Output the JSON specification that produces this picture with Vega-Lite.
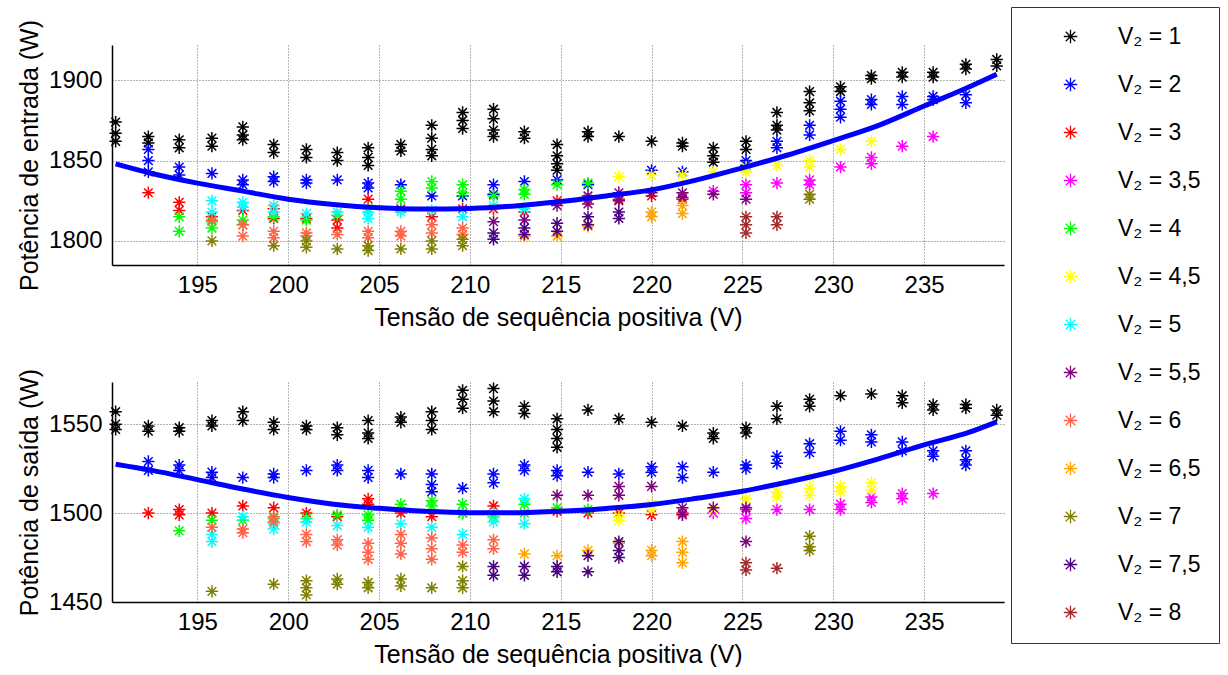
{
"$schema": "https://vega.github.io/schema/vega-lite/v6.json",
"background": "white",
"padding": {"left": 17, "top": 6, "right": 2, "bottom": 0},
"spacing": 38,
"config": {
  "font": "Liberation Sans",
  "view": {"stroke": null},
  "axis": {"labelFont": "Liberation Sans", "titleFont": "Liberation Sans", "labelFontSize": 24, "titleFontSize": 25, "titleFontWeight": "normal", "labelColor": "#000", "titleColor": "#000", "domainColor": "#000", "domainWidth": 1.5, "ticks": false, "grid": true, "gridColor": "#666", "gridDash": [1, 2], "gridOpacity": 1, "gridWidth": 1, "format": "d"}
},
"datasets": {
  "e": [
{"x":190.5,"y":1874,"s":"1"},{"x":190.5,"y":1867,"s":"1"},{"x":190.5,"y":1862,"s":"1"},
{"x":192.3,"y":1865,"s":"1"},{"x":192.3,"y":1861,"s":"1"},{"x":192.3,"y":1857,"s":"2"},{"x":192.3,"y":1850,"s":"2"},{"x":192.3,"y":1843,"s":"2"},{"x":192.3,"y":1830,"s":"3"},
{"x":194.0,"y":1863,"s":"1"},{"x":194.0,"y":1858,"s":"1"},{"x":194.0,"y":1846,"s":"2"},{"x":194.0,"y":1841,"s":"2"},{"x":194.0,"y":1824,"s":"3"},{"x":194.0,"y":1819,"s":"3"},{"x":194.0,"y":1815,"s":"4"},{"x":194.0,"y":1806,"s":"4"},
{"x":195.8,"y":1864,"s":"1"},{"x":195.8,"y":1859,"s":"1"},{"x":195.8,"y":1842,"s":"2"},{"x":195.8,"y":1825,"s":"5"},{"x":195.8,"y":1818,"s":"5"},{"x":195.8,"y":1815,"s":"3"},{"x":195.8,"y":1812,"s":"4"},{"x":195.8,"y":1808,"s":"4"},{"x":195.8,"y":1813,"s":"6"},{"x":195.8,"y":1800,"s":"7"},
{"x":197.5,"y":1871,"s":"1"},{"x":197.5,"y":1866,"s":"1"},{"x":197.5,"y":1863,"s":"1"},{"x":197.5,"y":1838,"s":"2"},{"x":197.5,"y":1835,"s":"2"},{"x":197.5,"y":1824,"s":"5"},{"x":197.5,"y":1821,"s":"5"},{"x":197.5,"y":1819,"s":"3"},{"x":197.5,"y":1813,"s":"4"},{"x":197.5,"y":1810,"s":"4"},{"x":197.5,"y":1810,"s":"6"},{"x":197.5,"y":1803,"s":"6"},
{"x":199.2,"y":1860,"s":"1"},{"x":199.2,"y":1855,"s":"1"},{"x":199.2,"y":1840,"s":"2"},{"x":199.2,"y":1837,"s":"2"},{"x":199.2,"y":1822,"s":"5"},{"x":199.2,"y":1818,"s":"5"},{"x":199.2,"y":1820,"s":"3"},{"x":199.2,"y":1814,"s":"3"},{"x":199.2,"y":1815,"s":"4"},{"x":199.2,"y":1806,"s":"6"},{"x":199.2,"y":1802,"s":"6"},{"x":199.2,"y":1797,"s":"7"},
{"x":201.0,"y":1857,"s":"1"},{"x":201.0,"y":1852,"s":"1"},{"x":201.0,"y":1838,"s":"2"},{"x":201.0,"y":1836,"s":"2"},{"x":201.0,"y":1817,"s":"5"},{"x":201.0,"y":1814,"s":"3"},{"x":201.0,"y":1813,"s":"4"},{"x":201.0,"y":1805,"s":"6"},{"x":201.0,"y":1803,"s":"6"},{"x":201.0,"y":1800,"s":"7"},{"x":201.0,"y":1796,"s":"7"},
{"x":202.7,"y":1855,"s":"1"},{"x":202.7,"y":1850,"s":"1"},{"x":202.7,"y":1838,"s":"2"},{"x":202.7,"y":1818,"s":"5"},{"x":202.7,"y":1816,"s":"4"},{"x":202.7,"y":1813,"s":"3"},{"x":202.7,"y":1808,"s":"3"},{"x":202.7,"y":1804,"s":"6"},{"x":202.7,"y":1795,"s":"7"},
{"x":204.4,"y":1858,"s":"1"},{"x":204.4,"y":1852,"s":"1"},{"x":204.4,"y":1847,"s":"1"},{"x":204.4,"y":1836,"s":"2"},{"x":204.4,"y":1833,"s":"2"},{"x":204.4,"y":1826,"s":"3"},{"x":204.4,"y":1818,"s":"5"},{"x":204.4,"y":1814,"s":"5"},{"x":204.4,"y":1820,"s":"4"},{"x":204.4,"y":1806,"s":"6"},{"x":204.4,"y":1802,"s":"6"},{"x":204.4,"y":1797,"s":"7"},{"x":204.4,"y":1794,"s":"7"},
{"x":206.2,"y":1860,"s":"1"},{"x":206.2,"y":1856,"s":"1"},{"x":206.2,"y":1835,"s":"2"},{"x":206.2,"y":1831,"s":"4"},{"x":206.2,"y":1826,"s":"4"},{"x":206.2,"y":1818,"s":"5"},{"x":206.2,"y":1820,"s":"3"},{"x":206.2,"y":1806,"s":"6"},{"x":206.2,"y":1803,"s":"6"},{"x":206.2,"y":1795,"s":"7"},
{"x":207.9,"y":1872,"s":"1"},{"x":207.9,"y":1864,"s":"1"},{"x":207.9,"y":1857,"s":"1"},{"x":207.9,"y":1853,"s":"1"},{"x":207.9,"y":1837,"s":"4"},{"x":207.9,"y":1833,"s":"4"},{"x":207.9,"y":1828,"s":"2"},{"x":207.9,"y":1819,"s":"5"},{"x":207.9,"y":1815,"s":"3"},{"x":207.9,"y":1810,"s":"6"},{"x":207.9,"y":1805,"s":"6"},{"x":207.9,"y":1800,"s":"7"},{"x":207.9,"y":1795,"s":"7"},
{"x":209.6,"y":1880,"s":"1"},{"x":209.6,"y":1875,"s":"1"},{"x":209.6,"y":1870,"s":"1"},{"x":209.6,"y":1835,"s":"4"},{"x":209.6,"y":1830,"s":"4"},{"x":209.6,"y":1828,"s":"2"},{"x":209.6,"y":1820,"s":"3"},{"x":209.6,"y":1815,"s":"5"},{"x":209.6,"y":1808,"s":"6"},{"x":209.6,"y":1804,"s":"6"},{"x":209.6,"y":1801,"s":"7"},{"x":209.6,"y":1797,"s":"7"},
{"x":211.3,"y":1882,"s":"1"},{"x":211.3,"y":1876,"s":"1"},{"x":211.3,"y":1869,"s":"1"},{"x":211.3,"y":1865,"s":"1"},{"x":211.3,"y":1835,"s":"2"},{"x":211.3,"y":1829,"s":"2"},{"x":211.3,"y":1828,"s":"4"},{"x":211.3,"y":1822,"s":"5"},{"x":211.3,"y":1820,"s":"3"},{"x":211.3,"y":1812,"s":"5,5"},{"x":211.3,"y":1805,"s":"7,5"},{"x":211.3,"y":1801,"s":"7,5"},
{"x":213.0,"y":1868,"s":"1"},{"x":213.0,"y":1864,"s":"1"},{"x":213.0,"y":1837,"s":"2"},{"x":213.0,"y":1832,"s":"4"},{"x":213.0,"y":1829,"s":"4"},{"x":213.0,"y":1820,"s":"5"},{"x":213.0,"y":1818,"s":"3"},{"x":213.0,"y":1813,"s":"5,5"},{"x":213.0,"y":1808,"s":"7,5"},{"x":213.0,"y":1804,"s":"7,5"},{"x":213.0,"y":1803,"s":"6,5"},
{"x":214.8,"y":1860,"s":"1"},{"x":214.8,"y":1853,"s":"1"},{"x":214.8,"y":1848,"s":"1"},{"x":214.8,"y":1844,"s":"1"},{"x":214.8,"y":1838,"s":"2"},{"x":214.8,"y":1835,"s":"4"},{"x":214.8,"y":1825,"s":"3"},{"x":214.8,"y":1822,"s":"5,5"},{"x":214.8,"y":1811,"s":"7,5"},{"x":214.8,"y":1806,"s":"7,5"},{"x":214.8,"y":1803,"s":"6,5"},
{"x":216.5,"y":1868,"s":"1"},{"x":216.5,"y":1865,"s":"1"},{"x":216.5,"y":1835,"s":"2"},{"x":216.5,"y":1836,"s":"4"},{"x":216.5,"y":1828,"s":"5,5"},{"x":216.5,"y":1823,"s":"5,5"},{"x":216.5,"y":1826,"s":"3"},{"x":216.5,"y":1815,"s":"7,5"},{"x":216.5,"y":1810,"s":"7,5"},{"x":216.5,"y":1809,"s":"6,5"},
{"x":218.2,"y":1865,"s":"1"},{"x":218.2,"y":1840,"s":"4,5"},{"x":218.2,"y":1830,"s":"5,5"},{"x":218.2,"y":1825,"s":"5,5"},{"x":218.2,"y":1826,"s":"3"},{"x":218.2,"y":1818,"s":"7,5"},{"x":218.2,"y":1814,"s":"7,5"},
{"x":220.0,"y":1862,"s":"1"},{"x":220.0,"y":1844,"s":"2"},{"x":220.0,"y":1841,"s":"4,5"},{"x":220.0,"y":1828,"s":"3"},{"x":220.0,"y":1830,"s":"5,5"},{"x":220.0,"y":1818,"s":"6,5"},{"x":220.0,"y":1815,"s":"6,5"},
{"x":221.7,"y":1861,"s":"1"},{"x":221.7,"y":1859,"s":"1"},{"x":221.7,"y":1843,"s":"2"},{"x":221.7,"y":1841,"s":"4,5"},{"x":221.7,"y":1830,"s":"5,5"},{"x":221.7,"y":1827,"s":"5,5"},{"x":221.7,"y":1826,"s":"3"},{"x":221.7,"y":1822,"s":"6,5"},{"x":221.7,"y":1817,"s":"6,5"},
{"x":223.4,"y":1858,"s":"1"},{"x":223.4,"y":1853,"s":"1"},{"x":223.4,"y":1849,"s":"1"},{"x":223.4,"y":1843,"s":"4,5"},{"x":223.4,"y":1831,"s":"3,5"},{"x":223.4,"y":1829,"s":"5,5"},
{"x":225.2,"y":1862,"s":"1"},{"x":225.2,"y":1857,"s":"1"},{"x":225.2,"y":1850,"s":"2"},{"x":225.2,"y":1847,"s":"2"},{"x":225.2,"y":1846,"s":"4,5"},{"x":225.2,"y":1843,"s":"4,5"},{"x":225.2,"y":1835,"s":"3,5"},{"x":225.2,"y":1830,"s":"3,5"},{"x":225.2,"y":1826,"s":"5,5"},{"x":225.2,"y":1815,"s":"8"},{"x":225.2,"y":1810,"s":"8"},{"x":225.2,"y":1805,"s":"8"},
{"x":226.9,"y":1880,"s":"1"},{"x":226.9,"y":1872,"s":"1"},{"x":226.9,"y":1869,"s":"1"},{"x":226.9,"y":1862,"s":"2"},{"x":226.9,"y":1858,"s":"2"},{"x":226.9,"y":1847,"s":"4,5"},{"x":226.9,"y":1836,"s":"3,5"},{"x":226.9,"y":1815,"s":"8"},{"x":226.9,"y":1810,"s":"8"},
{"x":228.7,"y":1893,"s":"1"},{"x":228.7,"y":1886,"s":"1"},{"x":228.7,"y":1881,"s":"1"},{"x":228.7,"y":1872,"s":"2"},{"x":228.7,"y":1866,"s":"2"},{"x":228.7,"y":1850,"s":"4,5"},{"x":228.7,"y":1846,"s":"4,5"},{"x":228.7,"y":1838,"s":"3,5"},{"x":228.7,"y":1835,"s":"3,5"},{"x":228.7,"y":1829,"s":"7"},{"x":228.7,"y":1826,"s":"7"},
{"x":230.4,"y":1896,"s":"1"},{"x":230.4,"y":1893,"s":"1"},{"x":230.4,"y":1887,"s":"2"},{"x":230.4,"y":1882,"s":"2"},{"x":230.4,"y":1877,"s":"2"},{"x":230.4,"y":1857,"s":"4,5"},{"x":230.4,"y":1846,"s":"3,5"},
{"x":232.1,"y":1903,"s":"1"},{"x":232.1,"y":1901,"s":"1"},{"x":232.1,"y":1888,"s":"2"},{"x":232.1,"y":1885,"s":"2"},{"x":232.1,"y":1862,"s":"4,5"},{"x":232.1,"y":1852,"s":"3,5"},{"x":232.1,"y":1848,"s":"3,5"},
{"x":233.8,"y":1905,"s":"1"},{"x":233.8,"y":1902,"s":"1"},{"x":233.8,"y":1890,"s":"2"},{"x":233.8,"y":1885,"s":"2"},{"x":233.8,"y":1859,"s":"3,5"},
{"x":235.5,"y":1905,"s":"1"},{"x":235.5,"y":1902,"s":"1"},{"x":235.5,"y":1890,"s":"2"},{"x":235.5,"y":1888,"s":"2"},{"x":235.5,"y":1865,"s":"3,5"},
{"x":237.3,"y":1910,"s":"1"},{"x":237.3,"y":1907,"s":"1"},{"x":237.3,"y":1891,"s":"2"},{"x":237.3,"y":1886,"s":"2"},
{"x":239.0,"y":1913,"s":"1"},{"x":239.0,"y":1909,"s":"1"}
  ],
  "s": [
{"x":190.5,"y":1557,"s":"1"},{"x":190.5,"y":1550,"s":"1"},{"x":190.5,"y":1547,"s":"1"},
{"x":192.3,"y":1549,"s":"1"},{"x":192.3,"y":1546,"s":"1"},{"x":192.3,"y":1529,"s":"2"},{"x":192.3,"y":1524,"s":"2"},{"x":192.3,"y":1500,"s":"3"},
{"x":194.0,"y":1548,"s":"1"},{"x":194.0,"y":1546,"s":"1"},{"x":194.0,"y":1527,"s":"2"},{"x":194.0,"y":1524,"s":"2"},{"x":194.0,"y":1502,"s":"3"},{"x":194.0,"y":1499,"s":"3"},{"x":194.0,"y":1490,"s":"4"},
{"x":195.8,"y":1552,"s":"1"},{"x":195.8,"y":1549,"s":"1"},{"x":195.8,"y":1523,"s":"2"},{"x":195.8,"y":1520,"s":"2"},{"x":195.8,"y":1500,"s":"3"},{"x":195.8,"y":1496,"s":"4"},{"x":195.8,"y":1492,"s":"6"},{"x":195.8,"y":1488,"s":"5"},{"x":195.8,"y":1484,"s":"5"},{"x":195.8,"y":1456,"s":"7"},
{"x":197.5,"y":1557,"s":"1"},{"x":197.5,"y":1552,"s":"1"},{"x":197.5,"y":1520,"s":"2"},{"x":197.5,"y":1504,"s":"3"},{"x":197.5,"y":1498,"s":"5"},{"x":197.5,"y":1496,"s":"4"},{"x":197.5,"y":1491,"s":"6"},{"x":197.5,"y":1489,"s":"6"},
{"x":199.2,"y":1551,"s":"1"},{"x":199.2,"y":1547,"s":"1"},{"x":199.2,"y":1522,"s":"2"},{"x":199.2,"y":1520,"s":"2"},{"x":199.2,"y":1503,"s":"3"},{"x":199.2,"y":1498,"s":"6"},{"x":199.2,"y":1495,"s":"6"},{"x":199.2,"y":1494,"s":"5"},{"x":199.2,"y":1491,"s":"5"},{"x":199.2,"y":1497,"s":"4"},{"x":199.2,"y":1460,"s":"7"},
{"x":201.0,"y":1549,"s":"1"},{"x":201.0,"y":1547,"s":"1"},{"x":201.0,"y":1524,"s":"2"},{"x":201.0,"y":1500,"s":"3"},{"x":201.0,"y":1497,"s":"4"},{"x":201.0,"y":1495,"s":"5"},{"x":201.0,"y":1488,"s":"6"},{"x":201.0,"y":1484,"s":"6"},{"x":201.0,"y":1462,"s":"7"},{"x":201.0,"y":1458,"s":"7"},{"x":201.0,"y":1454,"s":"7"},
{"x":202.7,"y":1548,"s":"1"},{"x":202.7,"y":1544,"s":"1"},{"x":202.7,"y":1527,"s":"2"},{"x":202.7,"y":1524,"s":"2"},{"x":202.7,"y":1499,"s":"4"},{"x":202.7,"y":1498,"s":"3"},{"x":202.7,"y":1493,"s":"5"},{"x":202.7,"y":1485,"s":"6"},{"x":202.7,"y":1482,"s":"6"},{"x":202.7,"y":1463,"s":"7"},{"x":202.7,"y":1460,"s":"7"},
{"x":204.4,"y":1552,"s":"1"},{"x":204.4,"y":1545,"s":"1"},{"x":204.4,"y":1542,"s":"1"},{"x":204.4,"y":1524,"s":"2"},{"x":204.4,"y":1520,"s":"2"},{"x":204.4,"y":1508,"s":"3"},{"x":204.4,"y":1505,"s":"3"},{"x":204.4,"y":1499,"s":"4"},{"x":204.4,"y":1496,"s":"4"},{"x":204.4,"y":1492,"s":"5"},{"x":204.4,"y":1483,"s":"6"},{"x":204.4,"y":1478,"s":"6"},{"x":204.4,"y":1474,"s":"6"},{"x":204.4,"y":1461,"s":"7"},{"x":204.4,"y":1458,"s":"7"},
{"x":206.2,"y":1554,"s":"1"},{"x":206.2,"y":1551,"s":"1"},{"x":206.2,"y":1522,"s":"2"},{"x":206.2,"y":1505,"s":"4"},{"x":206.2,"y":1500,"s":"3"},{"x":206.2,"y":1494,"s":"5"},{"x":206.2,"y":1488,"s":"6"},{"x":206.2,"y":1483,"s":"6"},{"x":206.2,"y":1477,"s":"6"},{"x":206.2,"y":1463,"s":"7"},{"x":206.2,"y":1459,"s":"7"},
{"x":207.9,"y":1557,"s":"1"},{"x":207.9,"y":1552,"s":"1"},{"x":207.9,"y":1547,"s":"1"},{"x":207.9,"y":1522,"s":"2"},{"x":207.9,"y":1516,"s":"2"},{"x":207.9,"y":1512,"s":"2"},{"x":207.9,"y":1507,"s":"4"},{"x":207.9,"y":1504,"s":"4"},{"x":207.9,"y":1498,"s":"3"},{"x":207.9,"y":1492,"s":"5"},{"x":207.9,"y":1486,"s":"6"},{"x":207.9,"y":1480,"s":"6"},{"x":207.9,"y":1474,"s":"6"},{"x":207.9,"y":1458,"s":"7"},
{"x":209.6,"y":1569,"s":"1"},{"x":209.6,"y":1564,"s":"1"},{"x":209.6,"y":1559,"s":"1"},{"x":209.6,"y":1514,"s":"2"},{"x":209.6,"y":1505,"s":"4"},{"x":209.6,"y":1500,"s":"4"},{"x":209.6,"y":1500,"s":"3"},{"x":209.6,"y":1488,"s":"5"},{"x":209.6,"y":1482,"s":"6"},{"x":209.6,"y":1478,"s":"6"},{"x":209.6,"y":1470,"s":"7"},{"x":209.6,"y":1462,"s":"7"},{"x":209.6,"y":1458,"s":"7"},
{"x":211.3,"y":1570,"s":"1"},{"x":211.3,"y":1563,"s":"1"},{"x":211.3,"y":1557,"s":"1"},{"x":211.3,"y":1522,"s":"2"},{"x":211.3,"y":1517,"s":"2"},{"x":211.3,"y":1504,"s":"3"},{"x":211.3,"y":1500,"s":"5"},{"x":211.3,"y":1495,"s":"5"},{"x":211.3,"y":1498,"s":"4"},{"x":211.3,"y":1485,"s":"6"},{"x":211.3,"y":1480,"s":"6"},{"x":211.3,"y":1470,"s":"7,5"},{"x":211.3,"y":1465,"s":"7,5"},
{"x":213.0,"y":1560,"s":"1"},{"x":213.0,"y":1556,"s":"1"},{"x":213.0,"y":1527,"s":"2"},{"x":213.0,"y":1524,"s":"2"},{"x":213.0,"y":1508,"s":"5"},{"x":213.0,"y":1494,"s":"5"},{"x":213.0,"y":1505,"s":"4"},{"x":213.0,"y":1500,"s":"4"},{"x":213.0,"y":1477,"s":"6,5"},{"x":213.0,"y":1470,"s":"7,5"},{"x":213.0,"y":1465,"s":"7,5"},
{"x":214.8,"y":1553,"s":"1"},{"x":214.8,"y":1547,"s":"1"},{"x":214.8,"y":1542,"s":"1"},{"x":214.8,"y":1537,"s":"1"},{"x":214.8,"y":1524,"s":"2"},{"x":214.8,"y":1521,"s":"2"},{"x":214.8,"y":1510,"s":"5,5"},{"x":214.8,"y":1503,"s":"4"},{"x":214.8,"y":1501,"s":"3"},{"x":214.8,"y":1476,"s":"6,5"},{"x":214.8,"y":1470,"s":"7,5"},{"x":214.8,"y":1467,"s":"7,5"},
{"x":216.5,"y":1558,"s":"1"},{"x":216.5,"y":1523,"s":"2"},{"x":216.5,"y":1510,"s":"5,5"},{"x":216.5,"y":1502,"s":"4"},{"x":216.5,"y":1500,"s":"3"},{"x":216.5,"y":1479,"s":"6,5"},{"x":216.5,"y":1476,"s":"7,5"},{"x":216.5,"y":1467,"s":"7,5"},
{"x":218.2,"y":1553,"s":"1"},{"x":218.2,"y":1522,"s":"2"},{"x":218.2,"y":1515,"s":"5,5"},{"x":218.2,"y":1510,"s":"5,5"},{"x":218.2,"y":1498,"s":"4,5"},{"x":218.2,"y":1496,"s":"4,5"},{"x":218.2,"y":1500,"s":"3"},{"x":218.2,"y":1483,"s":"6,5"},{"x":218.2,"y":1484,"s":"7,5"},{"x":218.2,"y":1479,"s":"7,5"},{"x":218.2,"y":1475,"s":"7,5"},
{"x":220.0,"y":1551,"s":"1"},{"x":220.0,"y":1526,"s":"2"},{"x":220.0,"y":1523,"s":"2"},{"x":220.0,"y":1515,"s":"5,5"},{"x":220.0,"y":1505,"s":"4,5"},{"x":220.0,"y":1502,"s":"4,5"},{"x":220.0,"y":1499,"s":"3"},{"x":220.0,"y":1479,"s":"6,5"},{"x":220.0,"y":1476,"s":"6,5"},
{"x":221.7,"y":1549,"s":"1"},{"x":221.7,"y":1526,"s":"2"},{"x":221.7,"y":1520,"s":"2"},{"x":221.7,"y":1503,"s":"5,5"},{"x":221.7,"y":1499,"s":"5,5"},{"x":221.7,"y":1500,"s":"3"},{"x":221.7,"y":1484,"s":"6,5"},{"x":221.7,"y":1478,"s":"6,5"},{"x":221.7,"y":1472,"s":"6,5"},
{"x":223.4,"y":1545,"s":"1"},{"x":223.4,"y":1542,"s":"1"},{"x":223.4,"y":1523,"s":"2"},{"x":223.4,"y":1502,"s":"4,5"},{"x":223.4,"y":1500,"s":"3,5"},{"x":223.4,"y":1503,"s":"5,5"},
{"x":225.2,"y":1548,"s":"1"},{"x":225.2,"y":1545,"s":"1"},{"x":225.2,"y":1527,"s":"2"},{"x":225.2,"y":1525,"s":"2"},{"x":225.2,"y":1508,"s":"4,5"},{"x":225.2,"y":1502,"s":"3,5"},{"x":225.2,"y":1497,"s":"3,5"},{"x":225.2,"y":1503,"s":"5,5"},{"x":225.2,"y":1484,"s":"5,5"},{"x":225.2,"y":1472,"s":"8"},{"x":225.2,"y":1468,"s":"8"},
{"x":226.9,"y":1560,"s":"1"},{"x":226.9,"y":1553,"s":"1"},{"x":226.9,"y":1532,"s":"2"},{"x":226.9,"y":1528,"s":"2"},{"x":226.9,"y":1512,"s":"4,5"},{"x":226.9,"y":1509,"s":"4,5"},{"x":226.9,"y":1502,"s":"3,5"},{"x":226.9,"y":1469,"s":"8"},
{"x":228.7,"y":1564,"s":"1"},{"x":228.7,"y":1560,"s":"1"},{"x":228.7,"y":1539,"s":"2"},{"x":228.7,"y":1534,"s":"2"},{"x":228.7,"y":1520,"s":"4,5"},{"x":228.7,"y":1514,"s":"4,5"},{"x":228.7,"y":1510,"s":"4,5"},{"x":228.7,"y":1502,"s":"3,5"},{"x":228.7,"y":1487,"s":"7"},{"x":228.7,"y":1481,"s":"7"},{"x":228.7,"y":1479,"s":"7"},
{"x":230.4,"y":1566,"s":"1"},{"x":230.4,"y":1546,"s":"2"},{"x":230.4,"y":1541,"s":"2"},{"x":230.4,"y":1515,"s":"4,5"},{"x":230.4,"y":1512,"s":"4,5"},{"x":230.4,"y":1505,"s":"3,5"},{"x":230.4,"y":1502,"s":"3,5"},
{"x":232.1,"y":1567,"s":"1"},{"x":232.1,"y":1544,"s":"2"},{"x":232.1,"y":1540,"s":"2"},{"x":232.1,"y":1517,"s":"4,5"},{"x":232.1,"y":1513,"s":"4,5"},{"x":232.1,"y":1509,"s":"3,5"},{"x":232.1,"y":1506,"s":"3,5"},
{"x":233.8,"y":1566,"s":"1"},{"x":233.8,"y":1562,"s":"1"},{"x":233.8,"y":1540,"s":"2"},{"x":233.8,"y":1535,"s":"2"},{"x":233.8,"y":1511,"s":"3,5"},{"x":233.8,"y":1508,"s":"3,5"},
{"x":235.5,"y":1561,"s":"1"},{"x":235.5,"y":1558,"s":"1"},{"x":235.5,"y":1535,"s":"2"},{"x":235.5,"y":1532,"s":"2"},{"x":235.5,"y":1511,"s":"3,5"},
{"x":237.3,"y":1561,"s":"1"},{"x":237.3,"y":1559,"s":"1"},{"x":237.3,"y":1535,"s":"2"},{"x":237.3,"y":1530,"s":"2"},{"x":237.3,"y":1527,"s":"2"},
{"x":239.0,"y":1558,"s":"1"},{"x":239.0,"y":1555,"s":"1"}
  ],
  "fe": [
{"x":190.5,"y":1848},{"x":192.5,"y":1842},{"x":195,"y":1836},{"x":197.5,"y":1831},{"x":200,"y":1826},{"x":202.5,"y":1822.7},{"x":205,"y":1820.6},{"x":207.5,"y":1819.8},{"x":210,"y":1820.2},{"x":212.5,"y":1821.8},{"x":215,"y":1824.5},{"x":217.5,"y":1828},{"x":220,"y":1831.8},{"x":222.5,"y":1838},{"x":225,"y":1845.5},{"x":227.5,"y":1853.5},{"x":230,"y":1862.5},{"x":232.5,"y":1872},{"x":235,"y":1884},{"x":237.5,"y":1896},{"x":239,"y":1903.8}
  ],
  "fs": [
{"x":190.5,"y":1527.5},{"x":192.5,"y":1524},{"x":195,"y":1518.8},{"x":197.5,"y":1513.5},{"x":200,"y":1508.8},{"x":202.5,"y":1505},{"x":205,"y":1502.7},{"x":207.5,"y":1501},{"x":210,"y":1500.2},{"x":212.5,"y":1500.2},{"x":215,"y":1501},{"x":217.5,"y":1502.6},{"x":220,"y":1504.8},{"x":222.5,"y":1508.3},{"x":225,"y":1512.3},{"x":227.5,"y":1517.5},{"x":230,"y":1523.4},{"x":232.5,"y":1530.5},{"x":235,"y":1538.3},{"x":237.5,"y":1545.5},{"x":239,"y":1551.3}
  ]
},
"vconcat": [
  {
    "width": 892, "height": 220,
    "layer": [
      {
        "data": {"name": "e"},
        "mark": {"type": "point", "shape": "M-1,0L1,0M0,-1L0,1M-0.7071,-0.7071L0.7071,0.7071M-0.7071,0.7071L0.7071,-0.7071", "filled": false, "strokeWidth": 1.5, "size": 150, "opacity": 1},
        "encoding": {
          "x": {"field": "x", "type": "quantitative", "scale": {"domain": [190.3, 239.4], "nice": false, "zero": false}, "axis": {"values": [195, 200, 205, 210, 215, 220, 225, 230, 235], "title": "Tensão de sequência positiva (V)", "labelPadding": 8, "titlePadding": 8}},
          "y": {"field": "y", "type": "quantitative", "scale": {"domain": [1785, 1922], "nice": false, "zero": false}, "axis": {"values": [1800, 1850, 1900], "title": "Potência de entrada (W)", "labelPadding": 10, "titlePadding": 6}},
          "color": {"field": "s", "type": "nominal",
            "scale": {"domain": ["1","2","3","3,5","4","4,5","5","5,5","6","6,5","7","7,5","8"], "range": ["#000000","#0000FF","#FF0000","#FF00FF","#00FF00","#FFFF00","#00FFFF","#800080","#FF6347","#FFA500","#808000","#4B0082","#A52A2A"]},
            "legend": {"orient": "none", "legendX": 899, "legendY": -38, "title": null, "labelExpr": "'V₂ = ' + datum.label", "symbolType": "M-1,0L1,0M0,-1L0,1M-0.7071,-0.7071L0.7071,0.7071M-0.7071,0.7071L0.7071,-0.7071", "symbolSize": 180, "symbolStrokeWidth": 1.3, "labelFont": "Liberation Sans", "labelFontSize": 23, "labelColor": "#000", "rowPadding": 24, "padding": 18, "symbolOffset": 30, "labelOffset": 36, "strokeColor": "#333", "fillColor": "white", "cornerRadius": 0}
          },
          "order": {"field": "s", "type": "ordinal"}
        }
      },
      {
        "data": {"name": "fe"},
        "mark": {"type": "line", "color": "#0000FF", "strokeWidth": 5, "interpolate": "monotone"},
        "encoding": {"x": {"field": "x", "type": "quantitative"}, "y": {"field": "y", "type": "quantitative"}}
      }
    ]
  },
  {
    "width": 892, "height": 220,
    "layer": [
      {
        "data": {"name": "s"},
        "mark": {"type": "point", "shape": "M-1,0L1,0M0,-1L0,1M-0.7071,-0.7071L0.7071,0.7071M-0.7071,0.7071L0.7071,-0.7071", "filled": false, "strokeWidth": 1.5, "size": 150, "opacity": 1},
        "encoding": {
          "x": {"field": "x", "type": "quantitative", "scale": {"domain": [190.3, 239.4], "nice": false, "zero": false}, "axis": {"values": [195, 200, 205, 210, 215, 220, 225, 230, 235], "title": "Tensão de sequência positiva (V)", "labelPadding": 8, "titlePadding": 8}},
          "y": {"field": "y", "type": "quantitative", "scale": {"domain": [1450, 1573.7], "nice": false, "zero": false}, "axis": {"values": [1450, 1500, 1550], "title": "Potência de saída (W)", "labelPadding": 10, "titlePadding": 6}},
          "color": {"field": "s", "type": "nominal"},
          "order": {"field": "s", "type": "ordinal"}
        }
      },
      {
        "data": {"name": "fs"},
        "mark": {"type": "line", "color": "#0000FF", "strokeWidth": 5, "interpolate": "monotone"},
        "encoding": {"x": {"field": "x", "type": "quantitative"}, "y": {"field": "y", "type": "quantitative"}}
      }
    ]
  }
]
}
